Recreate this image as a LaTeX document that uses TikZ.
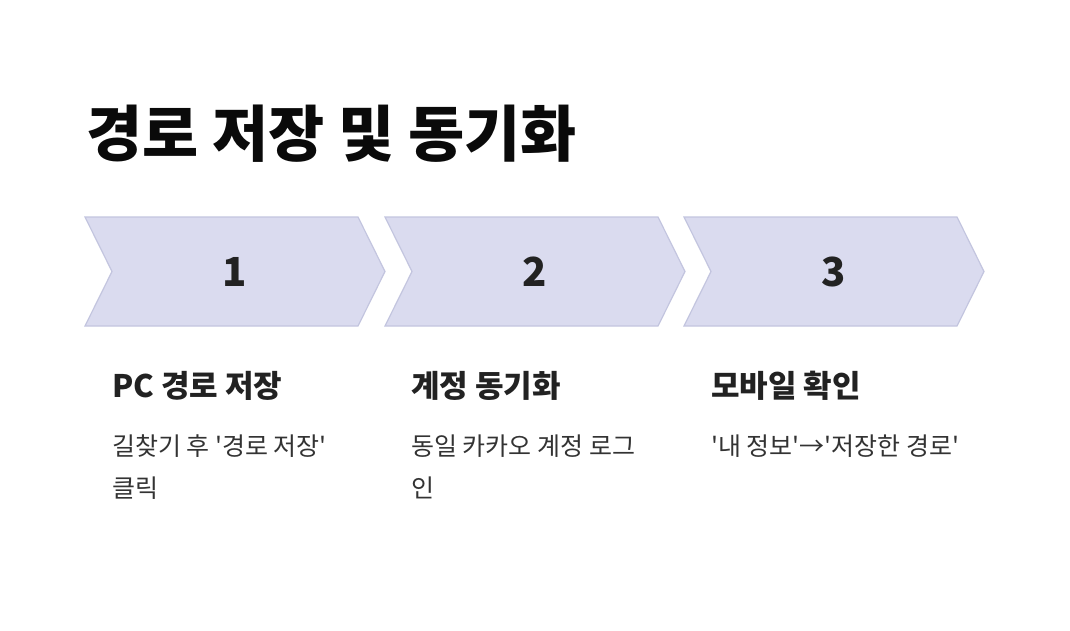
\documentclass[tikz,border=0pt]{standalone}
\usepackage{fontspec}
\setmainfont{Noto Sans CJK KR}[Ligatures=TeXOff]
\definecolor{chevfill}{HTML}{DADBEF}
\definecolor{chevline}{HTML}{C3C5DF}
\definecolor{titlecol}{HTML}{0A0A0A}
\definecolor{headcol}{HTML}{222222}
\definecolor{bodycol}{HTML}{333333}
\tikzset{
  chev/.style={fill=chevfill, draw=chevline, line width=1.2pt, line join=miter},
  numtxt/.style={font=\fontsize{40}{48}\selectfont\bfseries, text=headcol, inner sep=0},
  headtxt/.style={font=\fontsize{31}{36}\selectfont\bfseries, text=headcol, inner sep=0, anchor=west},
  bodytxt/.style={font=\fontsize{25}{42}\selectfont, text=bodycol, inner sep=0, anchor=west, align=left},
}
\begin{document}
\begin{tikzpicture}[x=1pt,y=-1pt]
\useasboundingbox[fill=white] (0,0) rectangle (1070,630);
\node[font=\fontsize{61}{70}\selectfont\bfseries, text=titlecol, inner sep=0, anchor=west] (title) at (86,134) {경로 저장 및 동기화};
\foreach \i/\L in {1/85,2/385,3/684}{
  \draw[chev] (\L,217) -- (\L+273,217) -- (\L+300,271.5) -- (\L+273,326) -- (\L,326) -- (\L+27,271.5) -- cycle;
  \node[numtxt] (n\i) at (\L+150,271.5) {\i};
}
\node[headtxt] (h1) at (112,386) {PC 경로 저장};
\node[headtxt] (h2) at (411,386) {계정 동기화};
\node[headtxt] (h3) at (711,386) {모바일 확인};
\node[bodytxt] (b1) at (112,467) {길찾기 후 '경로 저장'\\클릭};
\node[bodytxt] (b2) at (411,467) {동일 카카오 계정 로그\\인};
\node[bodytxt] (b3) at (711,446) {'내 정보'→'저장한 경로'};
\end{tikzpicture}
\end{document}
